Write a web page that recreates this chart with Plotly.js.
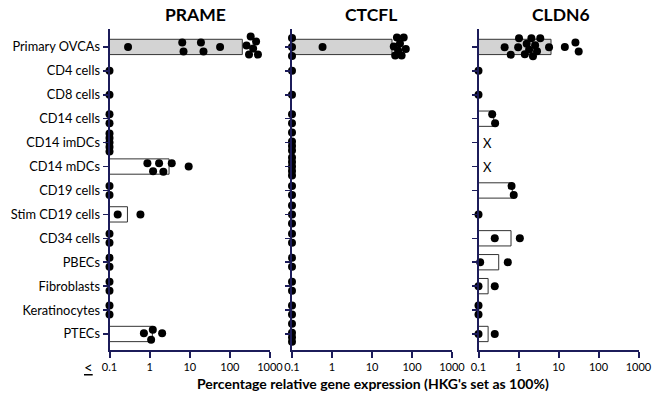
<!DOCTYPE html>
<html>
<head>
<meta charset="utf-8">
<script src="https://cdn.plot.ly/plotly-3.0.1.min.js"></script>
<style>html,body{margin:0;padding:0;background:#fff;}#chart{width:653px;height:397px;}</style>
</head>
<body>
<div id="chart"></div>
<script>
// ---------------- DATA ----------------
const categories = ["Primary OVCAs","CD4 cells","CD8 cells","CD14 cells","CD14 imDCs","CD14 mDCs",
  "CD19 cells","Stim CD19 cells","CD34 cells","PBECs","Fibroblasts","Keratinocytes","PTECs"];
const genes = ["PRAME","CTCFL","CLDN6"];
const xTickVals = [0.1, 1, 10, 100, 1000];
const xTickText = ["0.1","1","10","100","1000"];

// bar heights (mean, % of HKG); null = no bar
const prameBars = [204, null, null, null, null, 3.05, null, 0.28, null, null, null, null, 1.17];
const ctcflBars = [31.6, null, null, null, null, null, null, null, null, null, null, null, null];
const cldn6Bars = [6.5, null, null, 0.24, null, null, 0.7, null, 0.65, 0.32, 0.174, null, 0.174];

// individual measurements (values <= 0.1 are plotted at 0.1)
const prameVals = [
  [0.29, 6.5, 7.0, 19, 22, 57, 260, 300, 330, 380, 450, 500],
  [0.1], [0.1], [0.1, 0.1], [0.1, 0.1, 0.1, 0.1, 0.1],
  [0.88, 1.22, 1.72, 2.2, 3.56, 9.4],
  [0.1, 0.1], [0.16, 0.59], [0.1, 0.1], [0.1, 0.1], [0.1, 0.1], [0.1, 0.1],
  [0.72, 1.09, 1.2, 2.05]
];
const ctcflVals = [
  [0.1, 0.1, 0.1, 0.58, 35, 38, 42, 45, 50, 55, 62, 70],
  [0.1], [0.1], [0.1, 0.1], [0.1, 0.1, 0.1, 0.1], [0.1, 0.1, 0.1, 0.1, 0.1],
  [0.1, 0.1], [0.1, 0.1, 0.1], [0.1, 0.1], [0.1, 0.1], [0.1, 0.1], [0.1, 0.1],
  [0.1, 0.1, 0.1, 0.1]
];
const cldn6Vals = [
  [0.45, 0.64, 0.98, 1.03, 1.44, 1.6, 1.84, 2.1, 2.3, 2.6, 2.9, 3.5, 5.8, 14.4, 26.5, 32],
  [0.1], [0.1], [0.22, 0.26], [], [],
  [0.67, 0.76], [0.1], [0.255, 1.08], [0.11, 0.54], [0.1, 0.255], [0.1, 0.1],
  [0.1, 0.255]
];
const notDetermined = ["CD14 imDCs", "CD14 mDCs"]; // CLDN6, marked "X"

// ---------------- LAYOUT GEOMETRY ----------------
const W = 653, H = 397;
const xPix = [[109.5, 270], [292, 452], [478.5, 638.5]];
const titleCenters = [195, 371, 561];
const yTopPx = 29, yBotPx = 350;
const yRange = [12.67, -0.75];
const pxPerDec = (xPix[0][1] - xPix[0][0]) / 4;
const pxPerCat = (yBotPx - yTopPx) / (yRange[0] - yRange[1]);
const navy = "#1c1c5a";
const font = "Lato, 'Liberation Sans', sans-serif";

// simple beeswarm (pixel space) -> offsets in category units
function swarm(vals) {
  const order = vals.map((v, i) => i).sort((a, b) => vals[a] - vals[b]);
  const D = 9.5, LIM = 9;
  const placed = [];
  const cands = [0];
  for (let s = 0.5; s <= LIM; s += 0.5) cands.push(s, -s);
  for (const i of order) {
    const x = Math.log10(vals[i]) * pxPerDec;
    let best = 0, bestScore = -1;
    for (const c of cands) {
      let md = Infinity;
      for (const p of placed) md = Math.min(md, Math.hypot(p.x - x, p.y - c));
      if (md >= D) { best = c; break; }
      if (md > bestScore) { bestScore = md; best = c; }
    }
    placed.push({ x: x, y: best, i: i });
  }
  let groups = [], cur = [];
  placed.forEach((p, k) => {
    if (k > 0 && p.x - placed[k - 1].x >= D) { groups.push(cur); cur = []; }
    cur.push(p);
  });
  if (cur.length) groups.push(cur);
  const offs = new Array(vals.length).fill(0);
  groups.forEach(g => {
    const m = g.reduce((s, p) => s + p.y, 0) / g.length;
    g.forEach(p => { offs[p.i] = (p.y - m) / pxPerCat; });
  });
  return offs;
}

const allBars = [prameBars, ctcflBars, cldn6Bars];
const allVals = [prameVals, ctcflVals, cldn6Vals];
const traces = [];
const layout = {
  width: W, height: H,
  margin: { l: 0, r: 0, t: 0, b: 0 },
  paper_bgcolor: "#fff", plot_bgcolor: "rgba(0,0,0,0)",
  showlegend: false,
  font: { family: font, size: 11, color: "#000" },
  annotations: []
};

for (let g = 0; g < 3; g++) {
  const sfx = g === 0 ? "" : String(g + 1);
  const xa = "x" + sfx, ya = "y" + sfx;
  const by = [], bx = [], bb = [], bc = [];
  allBars[g].forEach((v, i) => {
    if (v !== null) { by.push(i); bx.push(v - 0.1); bb.push(0.1); bc.push(i === 0 ? "#d3d3d3" : "#ffffff"); }
  });
  traces.push({
    type: "bar", orientation: "h", x: bx, y: by, base: bb, width: 0.64,
    xaxis: xa, yaxis: ya, hoverinfo: "skip",
    marker: { color: bc, line: { color: "#333", width: 1 } }
  });
  const px = [], py = [];
  allVals[g].forEach((arr, i) => {
    const offs = swarm(arr);
    arr.forEach((v, k) => { px.push(v); py.push(i + offs[k]); });
  });
  traces.push({
    type: "scatter", mode: "markers", x: px, y: py, xaxis: xa, yaxis: ya,
    marker: { color: "#000", size: 8 }, cliponaxis: false, hoverinfo: "skip"
  });

  layout["xaxis" + sfx] = {
    type: "log", range: [-1, 3], domain: [xPix[g][0] / W, xPix[g][1] / W],
    anchor: ya, tickmode: "array", tickvals: xTickVals, ticktext: xTickText,
    showline: true, linecolor: navy, linewidth: 2, ticks: "outside", ticklen: 6,
    tickwidth: 2, tickcolor: navy, showgrid: false, zeroline: false,
    tickfont: { family: font, size: 11, color: "#000" }, fixedrange: true
  };
  layout["yaxis" + sfx] = {
    range: yRange, domain: [(H - yBotPx) / H, (H - yTopPx) / H], anchor: xa,
    tickmode: "array", tickvals: categories.map((c, i) => i), ticktext: categories,
    showticklabels: g === 0, showline: true, linecolor: navy, linewidth: 2,
    ticks: "outside", ticklen: 5, tickwidth: 1.5, tickcolor: navy,
    showgrid: false, zeroline: false,
    tickfont: { family: font, size: 12.8, color: "#000" }, fixedrange: true
  };
  layout.annotations.push({
    text: "<b>" + genes[g] + "</b>", xref: "paper", yref: "paper",
    x: titleCenters[g] / W, y: (H - 15) / H,
    xanchor: "center", yanchor: "middle", showarrow: false,
    font: { family: font, size: 17.5, color: "#000" }
  });
}

notDetermined.forEach(c => {
  layout.annotations.push({
    text: "X", xref: "x3", yref: "y3", x: -1, y: categories.indexOf(c),
    xanchor: "left", yanchor: "middle", xshift: 2, showarrow: false,
    font: { family: font, size: 13, color: "#000" }
  });
});
layout.annotations.push({
  text: "<b>Percentage relative gene expression (HKG's set as 100%)</b>",
  xref: "paper", yref: "paper", x: 373 / W, y: (H - 383) / H,
  xanchor: "center", yanchor: "middle", showarrow: false,
  font: { family: font, size: 14, color: "#000" }
});
layout.annotations.push({
  text: "<u>&lt;</u>", xref: "paper", yref: "paper", x: 88 / W, y: (H - 367) / H,
  xanchor: "center", yanchor: "middle", showarrow: false,
  font: { family: font, size: 15, color: "#000" }
});

Plotly.newPlot("chart", traces, layout, { staticPlot: true, displayModeBar: false });
</script>
</body>
</html>
